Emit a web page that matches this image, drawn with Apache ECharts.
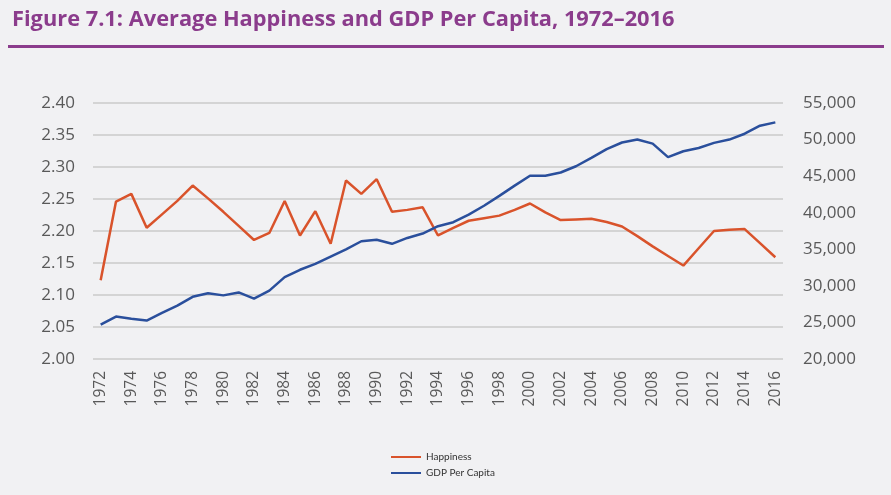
<!DOCTYPE html>
<html>
<head>
<meta charset="utf-8">
<script src="https://cdn.jsdelivr.net/npm/echarts@6/dist/echarts.min.js"></script>
<style>
html,body{margin:0;padding:0;background:#f1f1f3;}
#c{width:891px;height:495px;}
</style>
</head>
<body>
<div id="c"></div>
<script>
var years = [];
for (var y = 1972; y <= 2016; y++) years.push(String(y));

var happiness = [2.123, 2.246, 2.258, 2.205, 2.226, 2.247, 2.271, 2.251, 2.230, 2.208, 2.186, 2.197, 2.247, 2.193, 2.231, 2.180, 2.279,
  2.258, 2.281, 2.230, 2.233, 2.237, 2.193, 2.205, 2.216, 2.220, 2.224, 2.233, 2.243, 2.229, 2.217, 2.218,
  2.219, 2.214, 2.207, 2.192, 2.176, 2.161, 2.146, 2.173, 2.200, 2.202, 2.203, 2.181, 2.159];

var gdp = [24700, 25800, 25500, 25250, 26300, 27300, 28500, 29000, 28700, 29100, 28250, 29350, 31200, 32200, 33000, 34000, 35000,
  36100, 36300, 35750, 36550, 37150, 38150, 38700, 39750, 40950, 42300, 43700, 45050, 45050, 45500, 46350,
  47500, 48700, 49600, 50000, 49450, 47600, 48400, 48850, 49550, 50000, 50800, 51900, 52350];

var leftTicks = {min: 2.0, max: 2.4, interval: 0.05};
var rightTicks = {min: 20000, max: 55000, interval: 5000};

var chart = echarts.init(document.getElementById('c'));
chart.setOption({
  backgroundColor: '#f1f1f3',
  animation: false,
  title: {
    text: 'Figure 7.1: Average Happiness and GDP Per Capita, 1972\u20132016',
    left: 7, top: 4,
    textStyle: {color: '#8b3c8c', fontSize: 21.8, fontWeight: 'bold', fontFamily: 'Open Sans'}
  },
  graphic: [{
    type: 'rect', shape: {x: 8, y: 45, width: 876, height: 3},
    style: {fill: '#8b3c8c'}
  }],
  legend: {
    orient: 'vertical', left: 386, top: 447,
    itemWidth: 30, itemHeight: 2, itemGap: 6,
    textStyle: {fontSize: 10, color: '#333', fontFamily: 'Lato'},
    data: [{name: 'Happiness', icon: 'rect'}, {name: 'GDP Per Capita', icon: 'rect'}]
  },
  grid: {left: 93, right: 108, top: 103, bottom: 136, containLabel: false},
  xAxis: {
    type: 'category', data: years, boundaryGap: true,
    axisLine: {show: false}, axisTick: {show: false},
    axisLabel: {interval: 1, rotate: 90, fontSize: 15.5, color: '#595959', margin: 12, fontFamily: 'Open Sans'}
  },
  yAxis: [{
    type: 'value', min: leftTicks.min, max: leftTicks.max, interval: leftTicks.interval,
    axisLine: {show: false}, axisTick: {show: false},
    axisLabel: {fontSize: 17, color: '#595959', margin: 18, fontFamily: 'Open Sans',
      formatter: function (v) { return v.toFixed(2); }},
    splitLine: {lineStyle: {color: '#cacaca', width: 1.5}}
  }, {
    type: 'value', min: rightTicks.min, max: rightTicks.max, interval: rightTicks.interval,
    axisLine: {show: false}, axisTick: {show: false},
    axisLabel: {fontSize: 17, color: '#595959', margin: 20, fontFamily: 'Open Sans',
      formatter: function (v) { return v.toLocaleString('en-US'); }},
    splitLine: {show: false}
  }],
  series: [{
    name: 'Happiness', type: 'line', yAxisIndex: 0, data: happiness,
    symbol: 'none', lineStyle: {color: '#d9532b', width: 2.5}, itemStyle: {color: '#d9532b'}
  }, {
    name: 'GDP Per Capita', type: 'line', yAxisIndex: 1, data: gdp,
    symbol: 'none', lineStyle: {color: '#2a4f9c', width: 2.5}, itemStyle: {color: '#2a4f9c'}
  }]
});
</script>
</body>
</html>
